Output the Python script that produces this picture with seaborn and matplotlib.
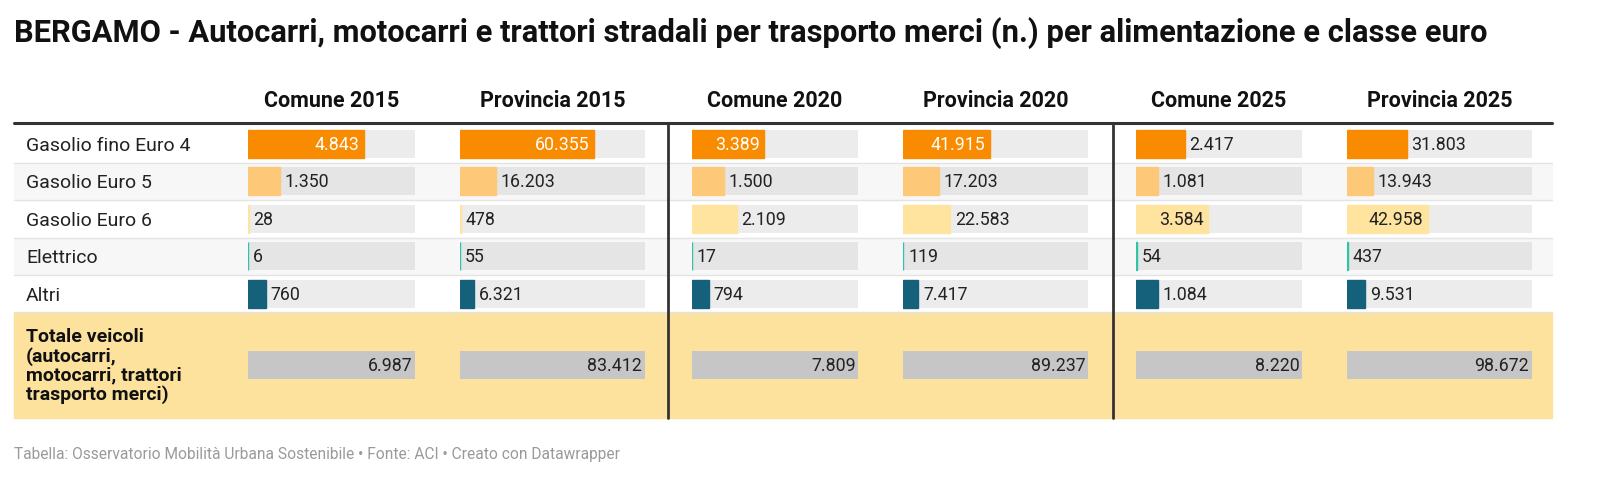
import matplotlib
matplotlib.use("Agg")
import matplotlib.pyplot as plt
import seaborn as sns
from matplotlib.patches import Rectangle

sns.set_theme(style="white")
plt.rcParams['font.family'] = ['Roboto', 'DejaVu Sans']

categories = ["Gasolio fino Euro 4", "Gasolio Euro 5", "Gasolio Euro 6", "Elettrico", "Altri"]
columns = ["Comune 2015", "Provincia 2015", "Comune 2020", "Provincia 2020", "Comune 2025", "Provincia 2025"]
comune_2015 = [4843, 1350, 28, 6, 760]
provincia_2015 = [60355, 16203, 478, 55, 6321]
comune_2020 = [3389, 1500, 2109, 17, 794]
provincia_2020 = [41915, 17203, 22583, 119, 7417]
comune_2025 = [2417, 1081, 3584, 54, 1084]
provincia_2025 = [31803, 13943, 42958, 437, 9531]
totals = [6987, 83412, 7809, 89237, 8220, 98672]
total_label = "Totale veicoli\n(autocarri,\nmotocarri, trattori\ntrasporto merci)"
values = [comune_2015, provincia_2015, comune_2020, provincia_2020, comune_2025, provincia_2025]

bar_colors = ["#f88b00", "#fdc878", "#fee49f", "#2ec4a6", "#15607a"]
dark_bar = [True, False, False, False, True]

W, H = 1600, 489
fig = plt.figure(figsize=(16, 4.89), dpi=100)
bg = fig.add_axes([0, 0, 1, 1])
bg.set_xlim(0, W); bg.set_ylim(H, 0); bg.axis("off")

def fmt(v):
    return f"{v:,}".replace(",", ".")

bg.text(14, 33, "BERGAMO - Autocarri, motocarri e trattori stradali per trasporto merci (n.) per alimentazione e classe euro",
        fontsize=22.2, fontweight="bold", va="center", ha="left", color="#111111")

row_top = 126
row_h = 37.5
tot_top, tot_bot = 313, 419
track_x = [248, 460, 692, 903, 1136, 1347]
track_w = [167, 185, 166, 185, 166, 185]
table_left, table_right = 14, 1552

for i in range(5):
    y0 = row_top + i * row_h
    if i % 2 == 1:
        bg.add_patch(Rectangle((table_left, y0), table_right - table_left, row_h, color="#f7f7f7", zorder=0))
    bg.plot([table_left, table_right], [y0 + row_h, y0 + row_h], color="#e4e4e4", lw=1, zorder=1)
    bg.text(26, y0 + row_h / 2 + 1, categories[i], fontsize=14, va="center", ha="left", color="#222222")

bg.add_patch(Rectangle((table_left, tot_top), table_right - table_left, tot_bot - tot_top, color="#fde29d", zorder=0))
bg.text(26, (tot_top + tot_bot) / 2, total_label, fontsize=14, fontweight="bold", va="center", ha="left",
        color="#111111", linespacing=1.05)

for j, c in enumerate(columns):
    bg.text(track_x[j] + track_w[j] / 2, 101, c, fontsize=15.5, fontweight="bold", ha="center", va="center", color="#111111")
bg.plot([table_left, table_right], [124, 124], color="#333333", lw=2.2, zorder=3)
for xv in (668, 1113):
    bg.plot([xv, xv], [124, tot_bot], color="#333333", lw=2, zorder=3)

for j in range(6):
    left = track_x[j] / W
    width = track_w[j] / W
    bottom = 1 - (row_top + 5 * row_h) / H
    height = 5 * row_h / H
    ax = fig.add_axes([left, bottom, width, height])
    ax.patch.set_alpha(0)
    tracks = [totals[j]] * 5
    sns.barplot(x=tracks, y=categories, orient="h", ax=ax, width=0.74,
                palette=["#ececec", "#e5e5e5", "#ececec", "#e5e5e5", "#ececec"], hue=categories, legend=False,
                saturation=1, linewidth=0)
    sns.barplot(x=values[j], y=categories, orient="h", ax=ax, width=0.74,
                palette=bar_colors, hue=categories, legend=False, saturation=1, linewidth=0)
    for p in ax.patches[5:]:
        p.set_edgecolor(p.get_facecolor())
        p.set_linewidth(1.0)
    for k, v in enumerate(values[j]):
        frac = v / totals[j]
        if frac > 0.4:
            ax.text(v - totals[j] * 0.025, k, fmt(v), ha="right", va="center", fontsize=12.8,
                    color="white" if dark_bar[k] else "#222222")
        else:
            ax.text(v + totals[j] * 0.02 + totals[j] * 0.006, k, fmt(v), ha="left", va="center", fontsize=12.8, color="#222222")
    ax.set_xlim(0, totals[j]); ax.set_ylim(4.5, -0.5)
    ax.axis("off")

    axt = fig.add_axes([left, 1 - 380 / H, width, 28 / H])
    sns.barplot(x=[totals[j]], y=["tot"], orient="h", ax=axt, width=1.0, color="#c6c6c6", saturation=1, linewidth=0)
    axt.set_xlim(0, totals[j]); axt.set_ylim(0.5, -0.5)
    axt.text(totals[j] * 0.985, 0, fmt(totals[j]), ha="right", va="center", fontsize=12.8, color="#222222")
    axt.axis("off")

bg.text(14, 455, "Tabella: Osservatorio Mobilità Urbana Sostenibile • Fonte: ACI • Creato con Datawrapper",
        fontsize=11.2, color="#9a9a9a", va="center", ha="left")

fig.savefig("out.png", dpi=100)
